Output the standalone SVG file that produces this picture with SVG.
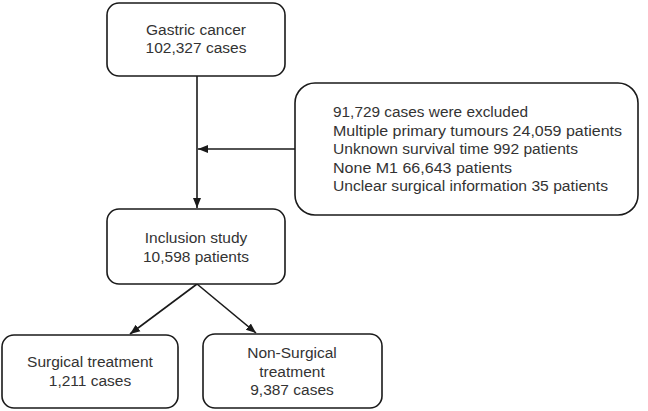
<svg xmlns="http://www.w3.org/2000/svg" width="648" height="411" viewBox="0 0 648 411">
<style>
.box{fill:#fff;stroke:#1a1a1a;stroke-width:1.6}
.t{font-family:"Liberation Sans",Arial,sans-serif;font-size:15.5px;fill:#333}
.c{text-anchor:middle}
.ln{stroke:#1a1a1a;stroke-width:1.6;fill:none}
</style>
<defs>
<marker id="ah" viewBox="0 0 10 10" refX="10" refY="5" markerWidth="10" markerHeight="10" markerUnits="userSpaceOnUse" orient="auto">
<path d="M0,1 L10,5 L0,9 Z" fill="#1a1a1a"/>
</marker>
</defs>
<g id="connectors">
<line class="ln" x1="197" y1="76" x2="197" y2="208" marker-end="url(#ah)"/>
<line class="ln" x1="295" y1="149" x2="198" y2="149" marker-end="url(#ah)"/>
<line class="ln" x1="197" y1="284" x2="130" y2="334" marker-end="url(#ah)"/>
<line class="ln" x1="197" y1="284" x2="256" y2="333" marker-end="url(#ah)"/>
</g>
<g id="gastric">
<rect class="box" x="107" y="3" width="178" height="73" rx="12"/>
<text class="t c" x="196" y="35">Gastric cancer</text>
<text class="t c" x="196" y="53">102,327 cases</text>
</g>
<g id="excluded">
<rect class="box" x="295" y="83" width="343" height="132" rx="20"/>
<text class="t" x="333" y="117" textLength="195" lengthAdjust="spacingAndGlyphs">91,729 cases were excluded</text>
<text class="t" x="333" y="135.5" textLength="289" lengthAdjust="spacingAndGlyphs">Multiple primary tumours 24,059 patients</text>
<text class="t" x="333" y="154" textLength="245" lengthAdjust="spacingAndGlyphs">Unknown survival time 992 patients</text>
<text class="t" x="333" y="172.5" textLength="179" lengthAdjust="spacingAndGlyphs">None M1 66,643 patients</text>
<text class="t" x="333" y="191" textLength="275" lengthAdjust="spacingAndGlyphs">Unclear surgical information 35 patients</text>
</g>
<g id="inclusion">
<rect class="box" x="107" y="209" width="178" height="75" rx="12"/>
<text class="t c" x="196" y="243">Inclusion study</text>
<text class="t c" x="196" y="262">10,598 patients</text>
</g>
<g id="surgical">
<rect class="box" x="2" y="335" width="176" height="73" rx="12"/>
<text class="t c" x="90" y="367">Surgical treatment</text>
<text class="t c" x="90" y="386">1,211 cases</text>
</g>
<g id="nonsurgical">
<rect class="box" x="203" y="334" width="179" height="74" rx="12"/>
<text class="t c" x="292" y="358">Non-Surgical</text>
<text class="t c" x="292" y="377">treatment</text>
<text class="t c" x="292" y="395">9,387 cases</text>
</g>
</svg>
